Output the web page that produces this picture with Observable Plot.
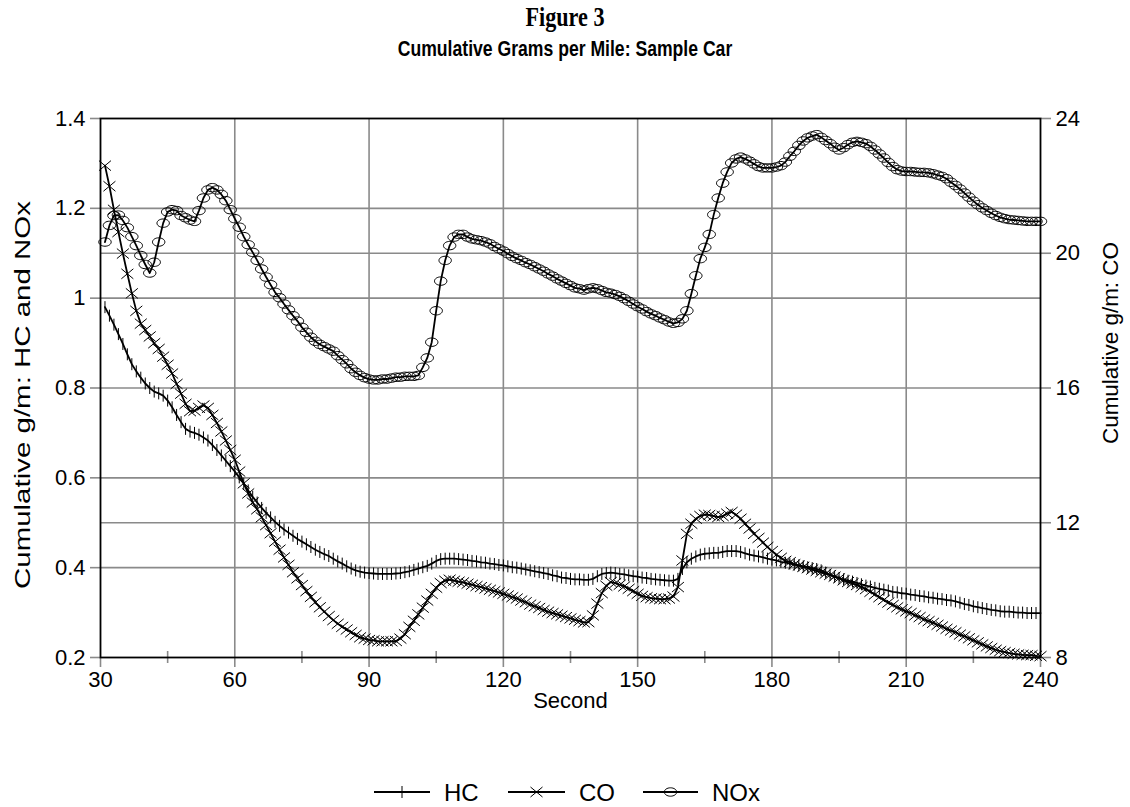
<!DOCTYPE html>
<html><head><meta charset="utf-8">
<script src="https://cdn.jsdelivr.net/npm/d3@7"></script>
<script src="https://cdn.jsdelivr.net/npm/@observablehq/plot@0.6"></script>
<style>
body{margin:0;background:#fff;font-family:"Liberation Sans",Arial,sans-serif;}
#wrap{position:relative;width:1130px;height:807px;overflow:hidden;}
#t1{position:absolute;top:2px;left:0;width:1130px;text-align:center;font:bold 27px "Liberation Serif","Times New Roman",serif;transform:scaleX(0.82);transform-origin:565px 0;}
#t2{position:absolute;top:36px;left:0;width:1130px;text-align:center;font:bold 22px "Liberation Sans",Arial,sans-serif;transform:scaleX(0.80);transform-origin:565px 0;}
#chart{position:absolute;top:80px;left:0;}
#legend{position:absolute;top:770px;left:0;}
</style></head><body>
<div id="wrap">
<div id="t1">Figure 3</div>
<div id="t2">Cumulative Grams per Mile: Sample Car</div>
<div id="chart"></div>
<div id="legend"></div>
</div>
<script>
// seconds 31..240
const firstSecond = 31;
const hc = [0.980,0.961,0.941,0.920,0.898,0.875,0.853,0.837,0.823,0.810,
0.800,0.792,0.788,0.783,0.772,0.757,0.740,0.724,0.709,0.703,
0.700,0.696,0.690,0.683,0.673,0.662,0.650,0.638,0.626,0.614,
0.601,0.587,0.572,0.558,0.545,0.533,0.522,0.512,0.502,0.493,
0.485,0.478,0.471,0.464,0.458,0.452,0.446,0.440,0.435,0.430,
0.426,0.420,0.414,0.409,0.403,0.398,0.394,0.391,0.389,0.388,
0.387,0.386,0.386,0.386,0.386,0.387,0.388,0.390,0.392,0.395,
0.398,0.401,0.404,0.409,0.415,0.419,0.420,0.420,0.420,0.419,
0.418,0.417,0.415,0.414,0.412,0.411,0.409,0.408,0.406,0.405,
0.403,0.401,0.400,0.398,0.396,0.394,0.392,0.390,0.388,0.386,
0.383,0.381,0.378,0.377,0.375,0.374,0.374,0.373,0.373,0.375,
0.381,0.386,0.388,0.389,0.388,0.386,0.385,0.383,0.381,0.380,
0.378,0.377,0.375,0.374,0.373,0.372,0.371,0.371,0.375,0.397,
0.412,0.420,0.425,0.429,0.431,0.432,0.433,0.433,0.435,0.437,
0.437,0.437,0.435,0.432,0.429,0.427,0.425,0.423,0.420,0.418,
0.416,0.413,0.411,0.409,0.407,0.405,0.403,0.401,0.399,0.397,
0.394,0.389,0.384,0.380,0.377,0.374,0.371,0.369,0.366,0.363,
0.360,0.358,0.355,0.353,0.351,0.349,0.346,0.345,0.343,0.342,
0.340,0.339,0.337,0.336,0.334,0.333,0.331,0.330,0.328,0.327,
0.325,0.322,0.319,0.317,0.314,0.312,0.310,0.308,0.306,0.305,
0.303,0.302,0.302,0.301,0.300,0.300,0.299,0.299,0.299,0.299];
// CO in g/m (right axis, 8..24)
const co = [22.60,21.99,21.29,20.63,19.99,19.39,18.81,18.29,17.91,17.72,
17.53,17.33,17.16,16.93,16.69,16.43,16.12,15.83,15.53,15.31,
15.33,15.41,15.48,15.41,15.20,14.96,14.71,14.44,14.16,13.87,
13.52,13.17,12.87,12.60,12.40,12.16,11.93,11.69,11.44,11.20,
10.97,10.75,10.53,10.35,10.15,9.97,9.80,9.64,9.49,9.36,
9.23,9.11,9.00,8.91,8.83,8.75,8.67,8.60,8.56,8.52,
8.51,8.48,8.48,8.48,8.48,8.49,8.56,8.69,8.91,9.09,
9.28,9.48,9.69,9.89,10.07,10.21,10.28,10.31,10.28,10.25,
10.23,10.19,10.16,10.12,10.09,10.05,10.01,9.97,9.93,9.89,
9.84,9.79,9.75,9.69,9.64,9.57,9.52,9.47,9.41,9.36,
9.32,9.28,9.24,9.20,9.16,9.12,9.08,9.04,9.05,9.25,
9.60,9.91,10.13,10.24,10.21,10.16,10.11,10.04,9.97,9.89,
9.83,9.79,9.76,9.75,9.73,9.73,9.75,9.81,10.09,10.88,
11.67,11.97,12.12,12.20,12.24,12.23,12.20,12.17,12.20,12.27,
12.32,12.24,12.12,11.97,11.83,11.67,11.55,11.41,11.28,11.16,
11.05,10.96,10.87,10.83,10.77,10.73,10.69,10.65,10.61,10.57,
10.53,10.49,10.45,10.40,10.35,10.29,10.24,10.20,10.15,10.09,
10.03,9.95,9.87,9.79,9.71,9.63,9.56,9.49,9.43,9.37,
9.32,9.25,9.20,9.13,9.08,9.03,8.97,8.92,8.85,8.80,
8.75,8.68,8.63,8.57,8.51,8.45,8.39,8.33,8.28,8.23,
8.19,8.16,8.13,8.11,8.09,8.08,8.07,8.07,8.05,8.04];
const nox = [1.125,1.162,1.184,1.185,1.173,1.157,1.137,1.117,1.095,1.075,
1.056,1.080,1.125,1.167,1.192,1.197,1.195,1.184,1.179,1.174,
1.171,1.195,1.223,1.241,1.246,1.241,1.231,1.217,1.197,1.177,
1.158,1.137,1.119,1.102,1.084,1.065,1.047,1.030,1.013,1.001,
0.987,0.974,0.961,0.949,0.935,0.924,0.913,0.904,0.897,0.892,
0.887,0.882,0.872,0.863,0.854,0.843,0.835,0.828,0.823,0.820,
0.818,0.818,0.820,0.820,0.822,0.824,0.824,0.826,0.826,0.826,
0.828,0.846,0.867,0.902,0.972,1.038,1.084,1.117,1.136,1.142,
1.142,1.136,1.132,1.130,1.128,1.125,1.121,1.115,1.110,1.105,
1.099,1.093,1.088,1.084,1.079,1.075,1.070,1.065,1.060,1.054,
1.049,1.043,1.038,1.033,1.028,1.023,1.021,1.018,1.021,1.023,
1.021,1.017,1.013,1.011,1.008,1.004,0.999,0.993,0.987,0.981,
0.976,0.970,0.965,0.961,0.956,0.952,0.947,0.944,0.946,0.954,
0.972,1.010,1.050,1.088,1.113,1.142,1.186,1.223,1.256,1.281,
1.301,1.310,1.314,1.310,1.305,1.299,1.293,1.290,1.290,1.290,
1.292,1.295,1.303,1.316,1.327,1.340,1.350,1.357,1.361,1.364,
1.358,1.351,1.344,1.336,1.330,1.335,1.342,1.347,1.349,1.347,
1.344,1.338,1.330,1.321,1.312,1.302,1.293,1.286,1.283,1.282,
1.282,1.281,1.280,1.280,1.279,1.277,1.274,1.271,1.266,1.258,
1.251,1.243,1.234,1.225,1.216,1.208,1.201,1.195,1.189,1.184,
1.180,1.177,1.175,1.174,1.173,1.172,1.171,1.171,1.171,1.171];

const xTicks = [30,60,90,120,150,180,210,240];
const xMinor = [45,75,105,135,165,195,225];
const leftTicks = [0.2,0.4,0.6,0.8,1.0,1.2,1.4];
const coTicks = [8,12,16,20,24];
const leftDomain = [0.2,1.4], coDomain = [8,24];

const coToLeft = c => leftDomain[0] + (c - coDomain[0]) * (leftDomain[1]-leftDomain[0]) / (coDomain[1]-coDomain[0]);
const leftToCo = v => coDomain[0] + (v - leftDomain[0]) * (coDomain[1]-coDomain[0]) / (leftDomain[1]-leftDomain[0]);

const rows = hc.map((h, i) => ({s: firstSecond + i, hc: h, co: co[i], nox: nox[i]}));

const GRAY = "#8a8a8a";
const FS = 22;
const FONT = "'Liberation Sans', Arial, sans-serif";

const vbar = {draw(ctx){ ctx.moveTo(0,-6); ctx.lineTo(0,6); }};
const xmark = {draw(ctx){ ctx.moveTo(-6,-5); ctx.lineTo(6,5); ctx.moveTo(-6,5); ctx.lineTo(6,-5); }};
const ell = {draw(ctx){ const rx=6.2, ry=4.2, k=0.5523;
  ctx.moveTo(rx,0);
  ctx.bezierCurveTo(rx, ry*k, rx*k, ry, 0, ry);
  ctx.bezierCurveTo(-rx*k, ry, -rx, ry*k, -rx, 0);
  ctx.bezierCurveTo(-rx, -ry*k, -rx*k, -ry, 0, -ry);
  ctx.bezierCurveTo(rx*k, -ry, rx, -ry*k, rx, 0);
  ctx.closePath(); }};

const coGridLeft = coTicks.map(coToLeft);
const gridYVals = Array.from(new Set([...leftTicks, ...coGridLeft].map(v => +v.toFixed(4)))).filter(v => v > 0.2001 && v < 1.3999);

const chart = Plot.plot({
  width: 1130,
  height: 680,
  marginTop: 38,
  marginBottom: 103,
  marginLeft: 100,
  marginRight: 90,
  style: {background: "transparent", fontFamily: FONT, overflow: "visible"},
  x: {domain: [30, 240]},
  y: {domain: leftDomain},
  marks: [
    Plot.gridX(xTicks.slice(1, -1), {stroke: GRAY, strokeOpacity: 1, strokeWidth: 1.6}),
    Plot.gridY(gridYVals, {stroke: GRAY, strokeOpacity: 1, strokeWidth: 1.6}),
    Plot.axisX(xTicks, {tickSize: 10, tickPadding: 4, stroke: GRAY, strokeWidth: 1.6, fontSize: FS, fill: "black", label: null}),
    Plot.axisX(xMinor, {tickSize: 12, dy: -6, stroke: GRAY, strokeWidth: 1.6, tickFormat: () => "", label: null}),
    Plot.axisY(leftTicks, {tickSize: 10, tickPadding: 5, stroke: GRAY, strokeWidth: 1.6, fontSize: FS, fill: "black", label: null, tickFormat: d => String(+d.toFixed(1))}),
    Plot.axisY(coGridLeft, {anchor: "right", tickSize: 10, tickPadding: 5, stroke: GRAY, strokeWidth: 1.6, fontSize: FS, fill: "black", label: null, tickFormat: v => String(Math.round(leftToCo(v)))}),
    Plot.frame({stroke: "black", strokeWidth: 1.8}),
    Plot.line(rows, {x: "s", y: "hc", stroke: "black", strokeWidth: 1.8}),
    Plot.dot(rows, {x: "s", y: "hc", symbol: vbar, stroke: "black", fill: "none", strokeWidth: 1}),
    Plot.line(rows, {x: "s", y: d => coToLeft(d.co), stroke: "black", strokeWidth: 1.8}),
    Plot.dot(rows, {x: "s", y: d => coToLeft(d.co), symbol: xmark, stroke: "black", fill: "none", strokeWidth: 1}),
    Plot.line(rows, {x: "s", y: "nox", stroke: "black", strokeWidth: 1.8}),
    Plot.dot(rows, {x: "s", y: "nox", symbol: ell, stroke: "black", fill: "none", strokeWidth: 1}),
    Plot.text(["Cumulative g/m: HC and NOx"], {frameAnchor: "left", textAnchor: "middle", lineAnchor: "middle", dx: -78, dy: 7, rotate: -90, fontSize: FS, fill: "black"}),
    Plot.text(["Cumulative g/m: CO"], {frameAnchor: "right", textAnchor: "middle", lineAnchor: "middle", dx: 70, dy: -45, rotate: -90, fontSize: FS, fill: "black"}),
    Plot.text(["Second"], {frameAnchor: "bottom", textAnchor: "middle", lineAnchor: "middle", dy: 43, fontSize: FS, fill: "black"})
  ]
});
document.getElementById("chart").appendChild(chart);

// stretch the rotated axis titles like the reference
d3.select(chart).selectAll("text").each(function() {
  const t = this.textContent;
  if (t === "Cumulative g/m: HC and NOx") d3.select(this).attr("textLength", 388).attr("lengthAdjust", "spacingAndGlyphs");
  if (t === "Cumulative g/m: CO") d3.select(this).attr("textLength", 202).attr("lengthAdjust", "spacingAndGlyphs");
});

// legend
const legendItems = [
  {name: "HC", sym: vbar, x0: 374, x1: 430, tx: 444},
  {name: "CO", sym: xmark, x0: 508, x1: 565, tx: 579},
  {name: "NOx", sym: ell, x0: 643, x1: 698, tx: 712}
];
const lg = d3.select("#legend").append("svg").attr("width", 1130).attr("height", 37);
const ly = 22;
for (const it of legendItems) {
  lg.append("line").attr("x1", it.x0).attr("x2", it.x1).attr("y1", ly).attr("y2", ly).attr("stroke", "black").attr("stroke-width", 1.8);
  lg.append("path").attr("transform", `translate(${(it.x0+it.x1)/2},${ly})`).attr("d", d3.symbol(it.sym)()).attr("stroke", "black").attr("fill", "none");
  lg.append("text").attr("x", it.tx).attr("y", ly).attr("dy", "0.36em").attr("font-size", 24).attr("font-family", FONT).text(it.name);
}
</script>
</body></html>
